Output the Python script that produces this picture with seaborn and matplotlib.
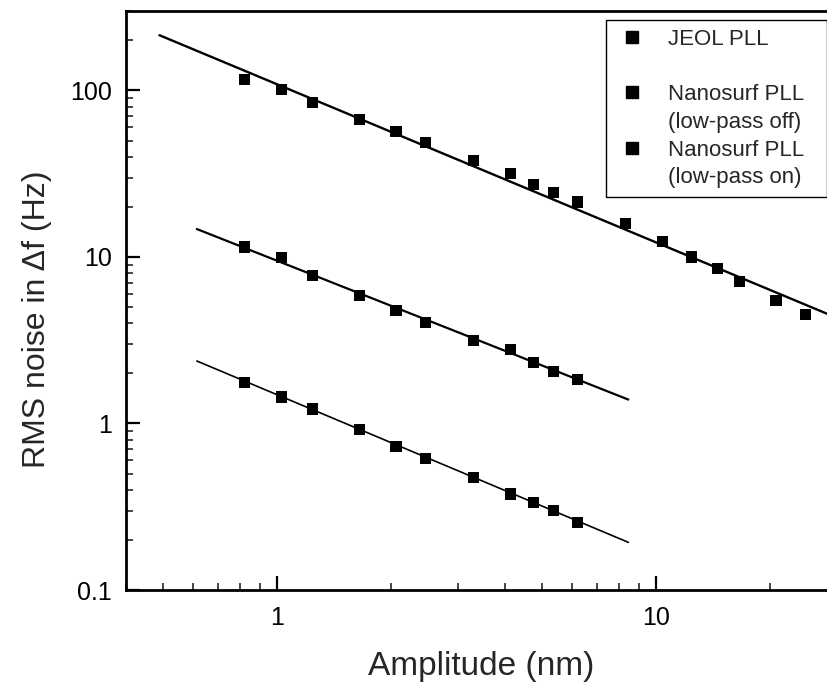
import numpy as np
import pandas as pd
import matplotlib
matplotlib.use("Agg")
import matplotlib.pyplot as plt
from matplotlib.lines import Line2D
import seaborn as sns

# ---------------- data ----------------
series_names = ["JEOL PLL", "Nanosurf PLL (low-pass off)", "Nanosurf PLL (low-pass on)"]

jeol_amp = [0.82, 1.03, 1.24, 1.65, 2.06, 2.47, 3.3, 4.13, 4.76, 5.37, 6.2,
            8.3, 10.4, 12.4, 14.5, 16.6, 20.7, 24.8]
jeol_noise = [116, 101, 85, 67, 56.8, 48.6, 38.0, 31.6, 27.3, 24.5, 21.4,
              15.9, 12.4, 10.0, 8.5, 7.1, 5.5, 4.5]

off_amp = [0.82, 1.03, 1.24, 1.65, 2.06, 2.47, 3.3, 4.13, 4.76, 5.37, 6.2]
off_noise = [11.5, 9.9, 7.76, 5.89, 4.79, 4.04, 3.16, 2.78, 2.33, 2.06, 1.84]

on_amp = [0.82, 1.03, 1.24, 1.65, 2.06, 2.47, 3.3, 4.13, 4.76, 5.37, 6.2]
on_noise = [1.77, 1.44, 1.22, 0.92, 0.725, 0.618, 0.475, 0.377, 0.334, 0.299, 0.254]

# power-law fit lines  noise = prefactor * amp**exponent
fit_prefactor = [109.0, 9.5, 1.49]
fit_exponent = [-0.95, -0.90, -0.957]
fit_amp_start = [0.49, 0.615, 0.615]
fit_amp_end = [30.0, 8.45, 8.45]
fit_linewidth = [1.7, 1.6, 1.2]

legend_rows = ["JEOL PLL", " ", "Nanosurf PLL", "(low-pass off)", "Nanosurf PLL", "(low-pass on)"]
legend_marker_rows = [True, False, True, False, True, False]

x_ticks = [1, 10]
x_ticklabels = ["1", "10"]
y_ticks = [0.1, 1, 10, 100]
y_ticklabels = ["0.1", "1", "10", "100"]

# ---------------- build tables ----------------
pts = pd.DataFrame({
    "amp": jeol_amp + off_amp + on_amp,
    "noise": jeol_noise + off_noise + on_noise,
    "series": [series_names[0]] * len(jeol_amp)
              + [series_names[1]] * len(off_amp)
              + [series_names[2]] * len(on_amp),
})

fit_frames = []
for name, a, n, x0, x1 in zip(series_names, fit_prefactor, fit_exponent,
                              fit_amp_start, fit_amp_end):
    xs = np.geomspace(x0, x1, 60)
    fit_frames.append(pd.DataFrame({"amp": xs, "noise": a * xs ** n, "series": name}))

# ---------------- plot ----------------
sns.set_style("ticks")
plt.rcParams["font.family"] = ["Liberation Sans", "DejaVu Sans"]

W, H = 828, 685
fig = plt.figure(figsize=(W / 100, H / 100), dpi=100)
ax = fig.add_axes([126 / W, 95 / H, 711 / W, 579 / H])

for df, lw in zip(fit_frames, fit_linewidth):
    sns.lineplot(data=df, x="amp", y="noise", ax=ax, color="black",
                 linewidth=lw, legend=False, sort=False, estimator=None)

sns.scatterplot(data=pts, x="amp", y="noise", hue="series",
                palette=["black"] * 3, marker="s", s=66, linewidth=0,
                ax=ax, legend=False, zorder=3)

ax.set_xscale("log")
ax.set_yscale("log")
ax.set_xlim(0.4, 30)
ax.set_ylim(0.1, 300)

ax.set_xticks(x_ticks)
ax.set_xticklabels(x_ticklabels)
ax.set_yticks(y_ticks)
ax.set_yticklabels(y_ticklabels)

ax.tick_params(which="major", direction="in", length=10, width=1.6,
               labelsize=18, colors="black")
ax.tick_params(which="minor", direction="in", length=5, width=1.2)
ax.tick_params(axis="x", which="both", top=False, pad=11.5)
ax.tick_params(axis="y", which="both", right=False, pad=10)

for side in ["left", "bottom", "top", "right"]:
    ax.spines[side].set_linewidth(2.0)
    ax.spines[side].set_color("black")

ax.set_xlabel("Amplitude (nm)", fontsize=24, labelpad=15)
ax.set_ylabel("RMS noise in \u0394f (Hz)", fontsize=23)
ax.yaxis.set_label_coords(-0.1045, 0.468)

handles = []
for has_marker in legend_marker_rows:
    if has_marker:
        handles.append(Line2D([], [], linestyle="none", marker="s",
                              markersize=8, color="black"))
    else:
        handles.append(Line2D([], [], linestyle="none", marker=None))

leg = ax.legend(handles, legend_rows, loc="upper left", mode="expand",
                bbox_to_anchor=(606 / W, 1 - 197 / H, 221 / W, 177 / H),
                bbox_transform=fig.transFigure,
                fontsize=16, frameon=True, fancybox=False, shadow=False,
                borderpad=0.4, handlelength=1.54, handletextpad=0.85,
                labelspacing=0.30, borderaxespad=0.0, framealpha=1)
leg.get_frame().set_edgecolor("black")
leg.get_frame().set_linewidth(1.0)

fig.savefig("out.png", dpi=100)
